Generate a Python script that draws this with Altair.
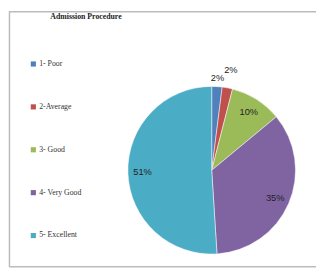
import altair as alt
import pandas as pd
import math

categories = ["1- Poor", "2-Average", "3- Good", "4- Very Good", "5- Excellent"]
values = [2, 2, 10, 35, 51]
colors = ["#4F81BD", "#C0504D", "#9BBB59", "#8064A2", "#4BACC6"]
title_text = "Admission Procedure"

df = pd.DataFrame({"category": categories, "value": values, "idx": list(range(len(categories)))})

CX, CY, R = 209, 163, 86

base = alt.Chart(df)

pie = base.mark_arc(outerRadius=R, stroke="white", strokeWidth=0.5).encode(
    theta=alt.Theta("value:Q", stack=True),
    order=alt.Order("idx:Q"),
    x=alt.value(CX), y=alt.value(CY),
    color=alt.Color(
        "category:N",
        scale=alt.Scale(domain=categories, range=colors),
        sort=categories,
        legend=alt.Legend(
            title=None, orient="none", legendX=22, legendY=50,
            symbolType="square", symbolSize=28, symbolStrokeWidth=0,
            labelFont="Liberation Serif", labelFontSize=8, labelColor="#333333",
            rowPadding=36, labelOffset=2,
        ),
    ),
)

labels = base.transform_window(
    cum="sum(value)", sort=[alt.SortField("idx")]
).transform_joinaggregate(
    total="sum(value)"
).transform_calculate(
    mid="(datum.cum - datum.value / 2) / datum.total",
    lbl="datum.value + '%'",
    lr="datum.value < 5 ? (datum.idx == 0 ? 95 : 105) : 71",
).mark_text(font="Liberation Sans", fontSize=9.5, color="#222222").encode(
    theta=alt.Theta("mid:Q", scale=alt.Scale(domain=[0, 1], range=[0, 2 * math.pi])),
    radius=alt.Radius("lr:Q", scale=None),
    x=alt.value(CX), y=alt.value(CY),
    text="lbl:N",
)

one = alt.Data(values=[{"a": 1}])
title = alt.Chart(one).mark_text(
    font="Liberation Serif", fontSize=8, fontWeight="bold", color="#222222", align="center"
).encode(x=alt.value(80), y=alt.value(6), text=alt.value(title_text))

border_color = "#BBBBBB"
left = alt.Chart(one).mark_rule(color=border_color, strokeWidth=1.5).encode(
    x=alt.value(1.5), y=alt.value(0), y2=alt.value(262))
top = alt.Chart(one).mark_rule(color=border_color, strokeWidth=1.5).encode(
    x=alt.value(1), x2=alt.value(316), y=alt.value(0.5))
bottom = alt.Chart(one).mark_rule(color=border_color, strokeWidth=1.5).encode(
    x=alt.value(1), x2=alt.value(316), y=alt.value(262))

chart = alt.layer(left, top, bottom, pie, labels, title).resolve_scale(
    theta="independent"
).properties(
    width=316, height=266, autosize=alt.AutoSizeParams(type="none"), padding=0
).configure_view(stroke=None)

chart.save("out.html", embed_options={"renderer": "svg", "actions": False})
